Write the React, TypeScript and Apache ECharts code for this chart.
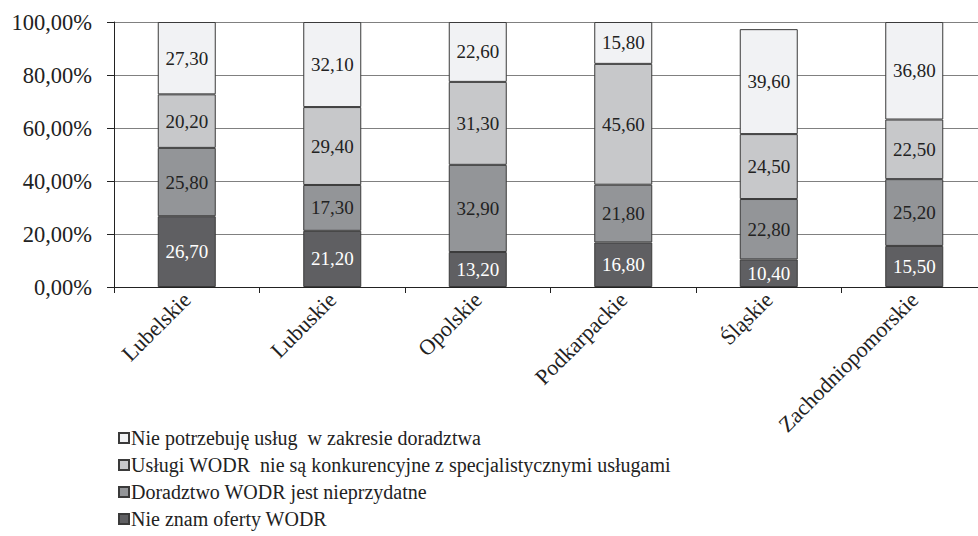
import React, { useEffect, useRef } from "react";
import * as echarts from "echarts";

const categories = ["Lubelskie", "Lubuskie", "Opolskie", "Podkarpackie", "Śląskie", "Zachodniopomorskie"];
const seriesNames = [
  "Nie znam oferty WODR",
  "Doradztwo WODR jest nieprzydatne",
  "Usługi WODR  nie są konkurencyjne z specjalistycznymi usługami",
  "Nie potrzebuję usług  w zakresie doradztwa",
];
const nieZnam = [26.7, 21.2, 13.2, 16.8, 10.4, 15.5];
const nieprzydatne = [25.8, 17.3, 32.9, 21.8, 22.8, 25.2];
const niekonkurencyjne = [20.2, 29.4, 31.3, 45.6, 24.5, 22.5];
const niePotrzebuje = [27.3, 32.1, 22.6, 15.8, 39.6, 36.8];
const yTicks = [0, 20, 40, 60, 80, 100];

const colors = ["#5f5f62", "#939598", "#c7c8ca", "#f1f2f4"];
const labelColors = ["#ffffff", "#222222", "#222222", "#222222"];
const FONT = "Liberation Serif";

export default function App() {
  const ref = useRef<HTMLDivElement>(null);
  useEffect(() => {
    if (!ref.current) return;
    const chart = echarts.init(ref.current, undefined, { renderer: "svg" });
    const values = [nieZnam, nieprzydatne, niekonkurencyjne, niePotrzebuje];
    const fmt = (v: number) => v.toFixed(2).replace(".", ",");
    chart.setOption({
      animation: false,
      backgroundColor: "#ffffff",
      textStyle: { fontFamily: FONT },
      grid: { left: 114, right: 0, top: 22, bottom: 249, containLabel: false },
      legend: {
        orient: "vertical",
        left: 113,
        top: 423,
        itemGap: 7,
        itemWidth: 10,
        itemHeight: 10,
        icon: "rect",
        data: seriesNames.slice().reverse(),
        textStyle: { fontFamily: FONT, fontSize: 20, color: "#222", padding: [0, 0, 0, -3] },
        selectedMode: false,
      },
      xAxis: {
        type: "category",
        data: categories,
        axisLine: { show: true, lineStyle: { color: "#222", width: 1 } },
        axisTick: { show: true, length: 6, lineStyle: { color: "#222" } },
        axisLabel: {
          rotate: 45,
          fontFamily: FONT,
          fontSize: 22,
          color: "#222",
          margin: 9,
          interval: 0,
        },
      },
      yAxis: {
        type: "value",
        min: 0,
        max: 100,
        interval: 20,
        axisLine: { show: true, lineStyle: { color: "#222", width: 1 } },
        axisTick: { show: true, length: 7, inside: false, lineStyle: { color: "#222" } },
        splitLine: { show: true, lineStyle: { color: "#808080", width: 1 } },
        axisLabel: {
          fontFamily: FONT,
          fontSize: 22.5,
          color: "#222",
          margin: 22,
          customValues: yTicks,
          formatter: (v: number) => fmt(v) + "%",
        },
      },
      series: seriesNames.map((name, i) => ({
        name,
        type: "bar",
        stack: "total",
        barWidth: 58,
        data: values[i],
        itemStyle: { color: colors[i], borderColor: "#3a3a3a", borderWidth: 1 },
        label: {
          show: true,
          position: "inside",
          fontFamily: FONT,
          fontSize: 19,
          color: labelColors[i],
          formatter: (p: any) => fmt(p.value),
        },
      })),
    });
    return () => chart.dispose();
  }, []);
  return (
    <div style={{ position: "fixed", left: 0, top: 0, width: 978, height: 536, overflow: "hidden", background: "#fff" }}>
      <div ref={ref} style={{ width: 987, height: 536 }} />
    </div>
  );
}
